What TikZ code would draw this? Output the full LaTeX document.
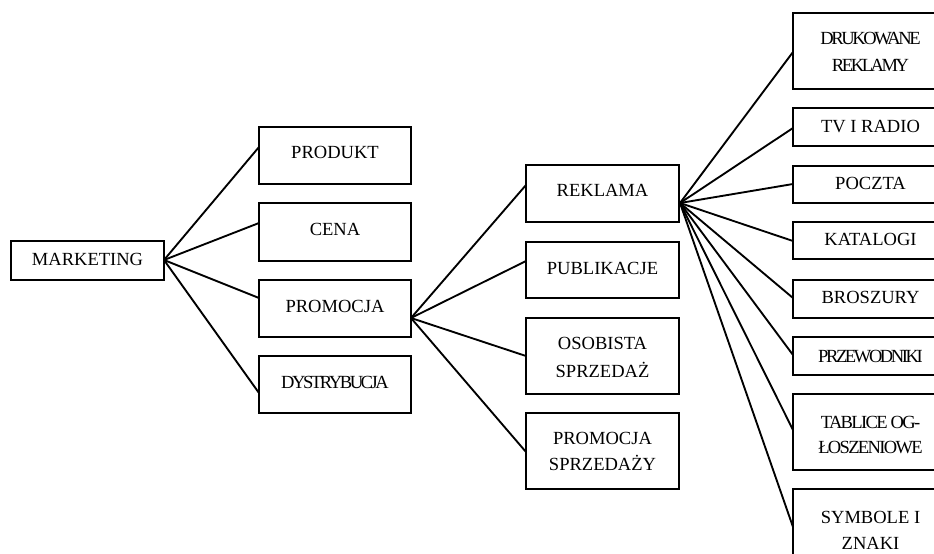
\documentclass[tikz,border=0pt]{standalone}
\usepackage{graphicx}
\usepackage{fontspec}
\setmainfont{Liberation Serif}
\newfontfamily\tightA[LetterSpace=-13]{Liberation Serif}
\newfontfamily\tightB[LetterSpace=-9]{Liberation Serif}
\usetikzlibrary{calc}
\begin{document}
\begin{tikzpicture}[x=0.75pt,y=-0.75pt,
  box/.style 2 args={draw, line width=1.4pt, anchor=north west, inner sep=0pt, outer sep=0pt,
    minimum width=#1*0.75pt, minimum height=#2*0.75pt},
  txt/.style={inner sep=0pt, anchor=base, font=\fontsize{13.9}{16}\selectfont},
  txtA/.style={txt, font=\fontsize{13.9}{16}\tightA},
  txtB/.style={txt, font=\fontsize{13.9}{16}\tightB},
  con/.style={line width=1.4pt, line cap=round}]
\useasboundingbox (0,0) rectangle (934,553);
\clip (0,0) rectangle (934,553);
% level 0
\node[box={153}{39}] (mk) at (11,241) {};
\node[txt] (mkt) at (87.5,265) {MARKETING};
% level 1
\node[box={152}{57}] (prod) at (259,127) {};
\node[box={152}{58}] (cena) at (259,203) {};
\node[box={152}{57}] (prom) at (259,280) {};
\node[box={152}{57}] (dyst) at (259,356) {};
\node[txt] (prodt) at (335,158) {PRODUKT};
\node[txt] (cenat) at (335,235) {CENA};
\node[txt] (promt) at (335,312) {PROMOCJA};
\node[txtA] (dystt) at (335,388) {DYSTRYBUCJA};
% level 2
\node[box={153}{57}] (rek) at (526,165) {};
\node[box={153}{56}] (publ) at (526,242) {};
\node[box={153}{76}] (osob) at (526,318) {};
\node[box={153}{76}] (psp) at (526,413) {};
\node[txt] (rekt) at (602.5,196) {REKLAMA};
\node[txt] (publt) at (602.5,274) {PUBLIKACJE};
\node[txt] (osobt1) at (602.5,349) {OSOBISTA};
\node[txt] (osobt2) at (602.5,377) {SPRZEDAŻ};
\node[txt] (pspt1) at (602.5,444) {PROMOCJA};
\node[txt] (pspt2) at (602.5,470) {SPRZEDAŻY};
% level 3
\node[box={155}{76}] (druk) at (793,13) {};
\node[box={155}{38}] (tv) at (793,108) {};
\node[box={155}{37}] (pocz) at (793,166) {};
\node[box={155}{37}] (kat) at (793,222) {};
\node[box={155}{38}] (bro) at (793,280) {};
\node[box={155}{38}] (prz) at (793,337) {};
\node[box={155}{76}] (tab) at (793,394) {};
\node[box={155}{76}] (sym) at (793,489) {};
\node[txtA] (drukt1) at (870.5,44) {DRUKOWANE};
\node[txtA] (drukt2) at (870.5,71) {REKLAMY};
\node[txt] (tvt) at (870.5,132) {TV I RADIO};
\node[txt] (poczt) at (870.5,189) {POCZTA};
\node[txt] (katt) at (870.5,245) {KATALOGI};
\node[txt] (brot) at (870.5,303) {BROSZURY};
\node[txtA] (przt) at (870.5,362) {PRZEWODNIKI};
\node[txtB] (tabt1) at (870.5,428) {TABLICE OG-};
\node[txtB] (tabt2) at (870.5,453) {ŁOSZENIOWE};
\node[txt] (symt1) at (870.5,523) {SYMBOLE I};
\node[txt] (symt2) at (870.5,549) {ZNAKI};
% connectors level 0 -> 1
\coordinate (s0) at ($(mk.north east)+(0,19)$);
\draw[con] (s0) -- ($(prod.north west)+(0,20)$);
\draw[con] (s0) -- ($(cena.north west)+(0,20)$);
\draw[con] (s0) -- ($(prom.north west)+(0,18)$);
\draw[con] (s0) -- ($(dyst.north west)+(0,37)$);
% level 1 -> 2
\coordinate (s1) at ($(prom.north east)+(0,38)$);
\draw[con] (s1) -- ($(rek.north west)+(0,20)$);
\draw[con] (s1) -- ($(publ.north west)+(0,19)$);
\draw[con] (s1) -- ($(osob.north west)+(0,38)$);
\draw[con] (s1) -- ($(psp.north west)+(0,39)$);
% level 2 -> 3
\coordinate (s2) at ($(rek.north east)+(1,38)$);
\draw[con] (s2) -- ($(druk.north west)+(0,39)$);
\draw[con] (s2) -- ($(tv.north west)+(0,20)$);
\draw[con] (s2) -- ($(pocz.north west)+(0,18)$);
\draw[con] (s2) -- ($(kat.north west)+(0,19)$);
\draw[con] (s2) -- ($(bro.north west)+(0,18)$);
\draw[con] (s2) -- ($(prz.north west)+(0,18)$);
\draw[con] (s2) -- ($(tab.north west)+(0,36)$);
\draw[con] (s2) -- ($(sym.north west)+(0,38)$);
\end{tikzpicture}
\end{document}
